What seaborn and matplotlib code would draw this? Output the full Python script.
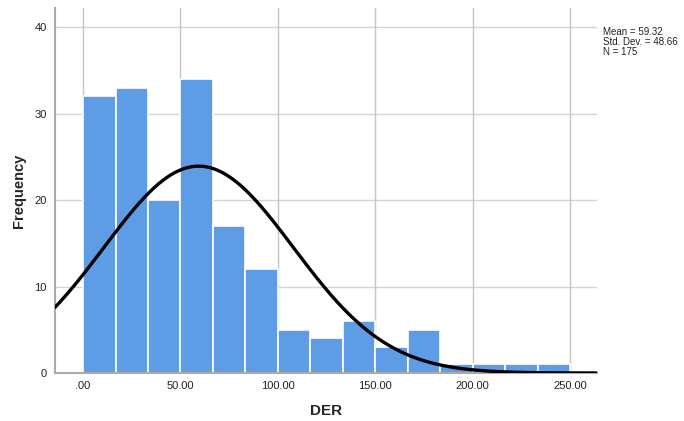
import numpy as np
import pandas as pd
import matplotlib
matplotlib.use("Agg")
import matplotlib.pyplot as plt
import seaborn as sns

# Histogram of DER (SPSS style), counts
bin_start = 0.0
bin_end = 250.0
counts = [32, 33, 20, 34, 17, 12, 5, 4, 6, 3, 5, 1, 1, 1, 1]
mean_der = 59.32
sd_der = 48.66
n_der = 175
x_ticks = [0, 50, 100, 150, 200, 250]
x_tick_labels = [".00", "50.00", "100.00", "150.00", "200.00", "250.00"]
y_ticks = [0, 10, 20, 30, 40]

bin_width = (bin_end - bin_start) / len(counts)
centers = bin_start + bin_width * (np.arange(len(counts)) + 0.5)
df = pd.DataFrame({"DER": centers, "count": counts})

sns.set_style("white")
plt.rcParams["font.family"] = ["Liberation Sans", "DejaVu Sans"]

fig = plt.figure(figsize=(6.84, 4.21), dpi=100)
ax = fig.add_axes([0.0804, 0.114, 0.793, 0.867])

# gridlines behind bars
for y in y_ticks[1:]:
    ax.axhline(y, color="#d4d4d4", lw=1.0, zorder=0)
for x in x_ticks:
    ax.axvline(x, color="#c4c4c4", lw=1.0, zorder=0)

sns.histplot(data=df, x="DER", weights="count", binwidth=bin_width,
             binrange=(bin_start, bin_end), ax=ax,
             color="#5e9de6", alpha=1.0, edgecolor="white", linewidth=1.2,
             zorder=2)

# fitted normal curve
xs = np.linspace(-14.4, 263.5, 400)
ys = n_der * bin_width * np.exp(-0.5 * ((xs - mean_der) / sd_der) ** 2) / (sd_der * np.sqrt(2 * np.pi))
sns.lineplot(x=xs, y=ys, ax=ax, color="black", lw=2.4, zorder=3)

ax.set_xlim(-14.4, 264)
ax.set_ylim(0, 42.2)
ax.set_xticks(x_ticks)
ax.set_xticklabels(x_tick_labels, fontsize=8, color="#222222")
ax.set_yticks(y_ticks)
ax.set_yticklabels([str(v) for v in y_ticks], fontsize=8, color="#222222")
ax.tick_params(length=0, pad=6)

for s in ["top", "right"]:
    ax.spines[s].set_visible(False)
ax.spines["left"].set_color("#aaaaaa")
ax.spines["left"].set_linewidth(1.5)
ax.spines["bottom"].set_color("#aaaaaa")
ax.spines["bottom"].set_linewidth(1.5)

ax.set_xlabel("DER", fontsize=11, fontweight="bold", labelpad=9)
ax.set_ylabel("Frequency", fontsize=10.5, fontweight="bold", labelpad=6)

fig.text(0.882, 0.935, f"Mean = {mean_der:.2f}\nStd. Dev. = {sd_der:.2f}\nN = {n_der}",
         fontsize=7, va="top", ha="left", linespacing=0.95, color="#222222")

fig.savefig("out.png", dpi=100)
